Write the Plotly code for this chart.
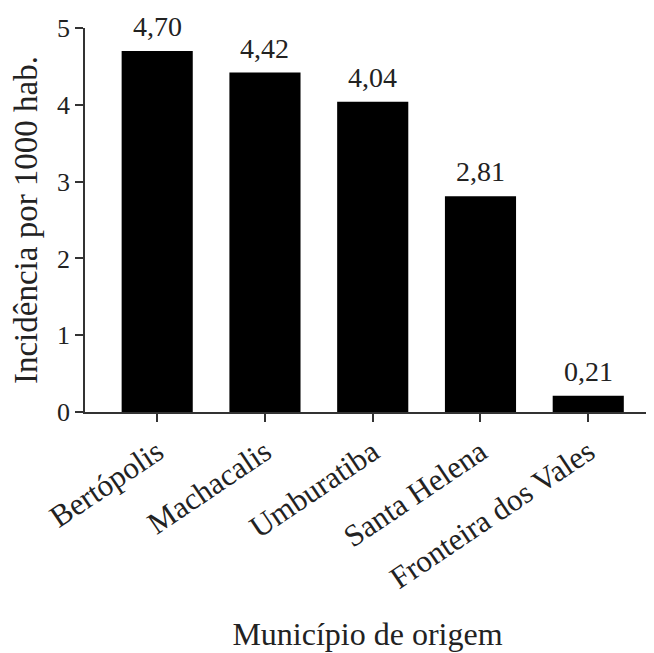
import plotly.graph_objects as go

municipios = ["Bertópolis", "Machacalis", "Umburatiba", "Santa Helena", "Fronteira dos Vales"]
incidencia = [4.70, 4.42, 4.04, 2.81, 0.21]
rotulos = ["4,70", "4,42", "4,04", "2,81", "0,21"]
y_ticks = [0, 1, 2, 3, 4, 5]

FONT = "Liberation Serif, Times New Roman, serif"

fig = go.Figure(go.Bar(
    x=municipios, y=incidencia,
    marker=dict(color="black", line=dict(color="black", width=0)),
    width=0.66, cliponaxis=False,
))

for m, v, t in zip(municipios, incidencia, rotulos):
    fig.add_annotation(x=m, y=v, text=t, showarrow=False, yanchor="bottom",
                       yshift=7, font=dict(family=FONT, size=28, color="#222"))

fig.update_layout(
    width=654, height=653,
    margin=dict(l=77, r=12, t=20, b=249, autoexpand=False),
    paper_bgcolor="white", plot_bgcolor="white",
    font=dict(family=FONT, color="#222"),
    showlegend=False,
    xaxis=dict(
        range=[-0.67, 4.573], showline=True, linecolor="#333", linewidth=1.5,
        ticks="outside", ticklen=8, tickcolor="#333", tickwidth=1.5,
        tickangle=-34, tickfont=dict(family=FONT, size=31, color="#222"),
        title=dict(text="Município de origem", font=dict(family=FONT, size=32, color="#222"), standoff=28),
        showgrid=False, zeroline=False, automargin=False,
    ),
    yaxis=dict(
        range=[0, 5], tickvals=y_ticks, showline=True, linecolor="#333", linewidth=1.5,
        ticks="outside", ticklen=8, tickcolor="#333", tickwidth=1.5,
        tickfont=dict(family=FONT, size=26, color="#222"),
        title=dict(text="Incidência por 1000 hab.", font=dict(family=FONT, size=33, color="#222"), standoff=12),
        showgrid=False, zeroline=False, automargin=False,
    ),
)

fig.write_html("out.html")
